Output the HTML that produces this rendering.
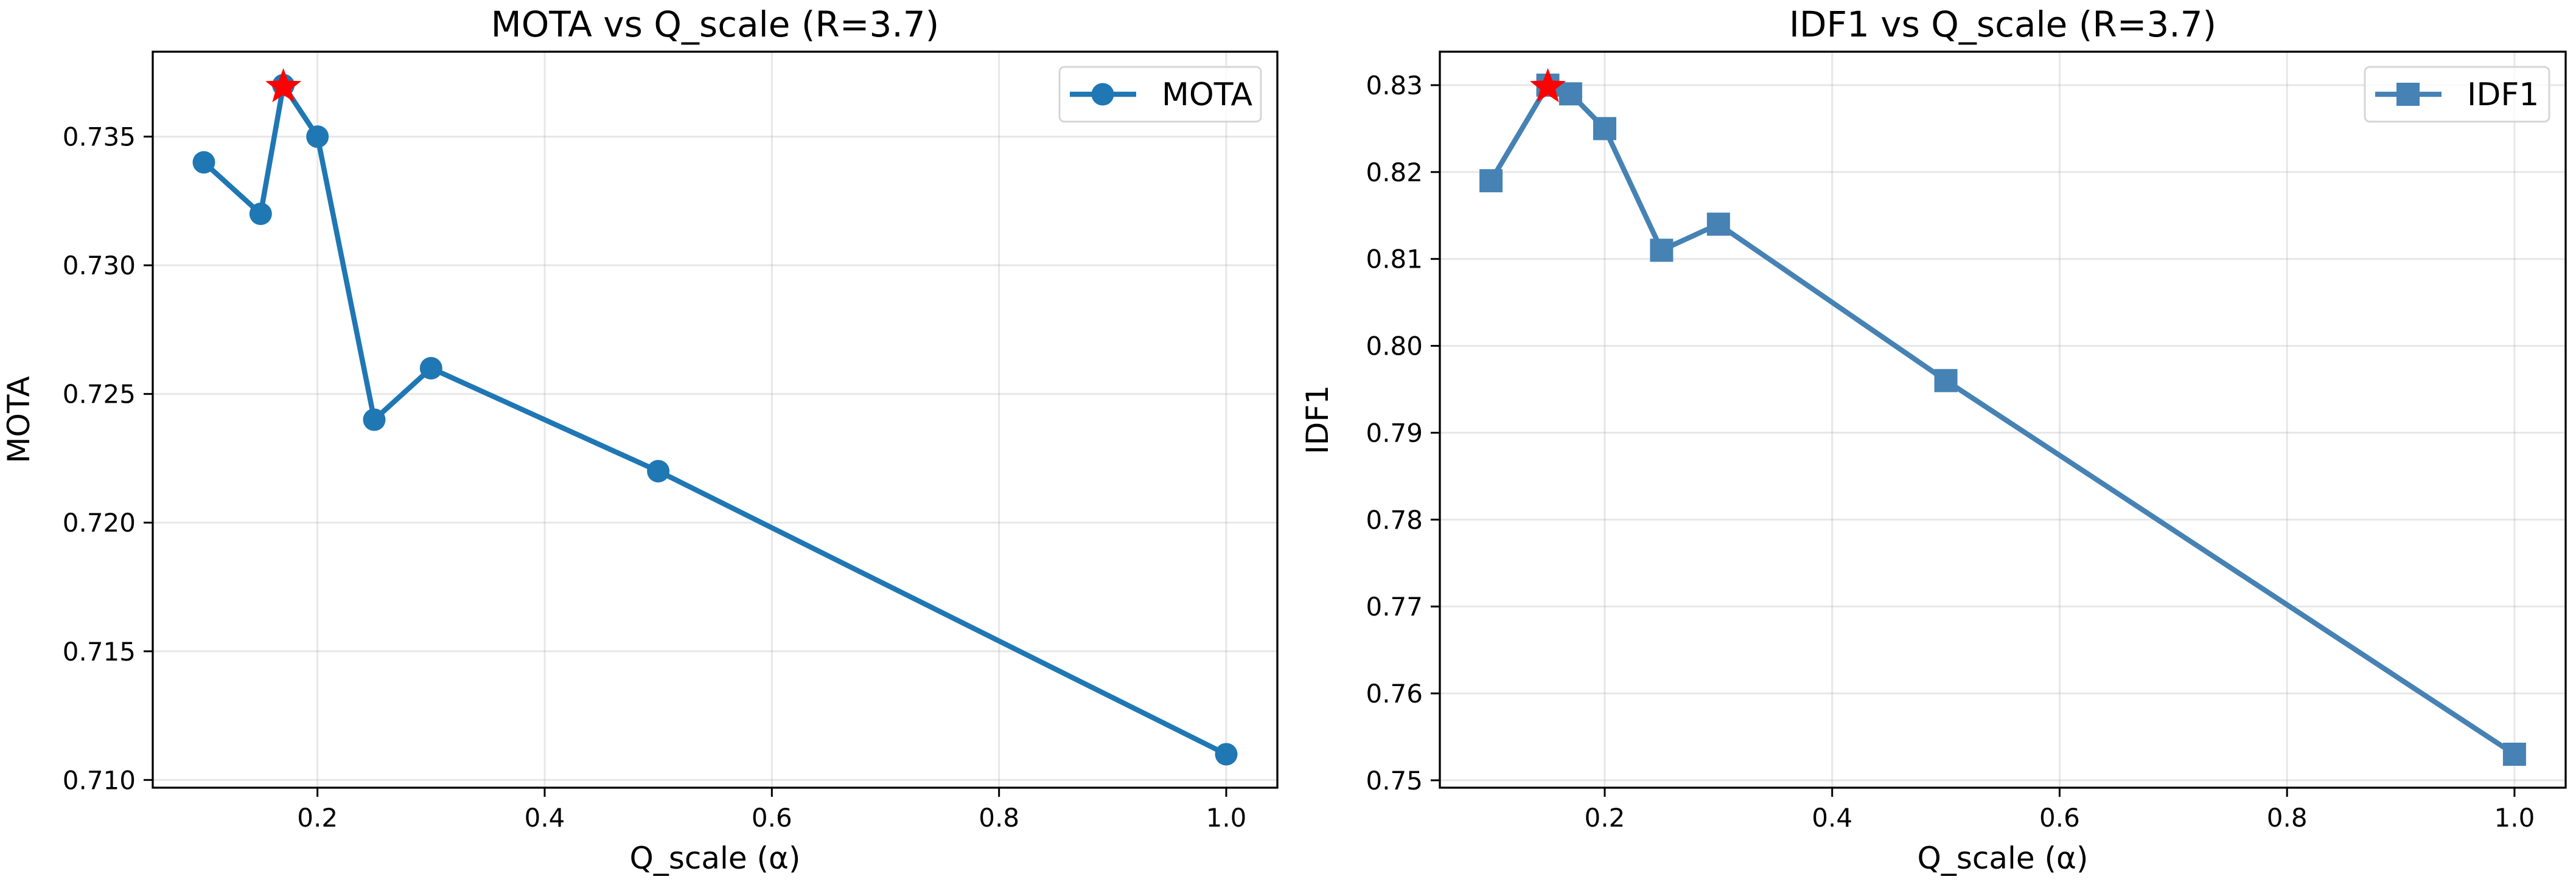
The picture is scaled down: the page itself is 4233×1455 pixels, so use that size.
<!DOCTYPE html>
<html><head><meta charset="utf-8"><style>
html,body{margin:0;padding:0;background:#fff;}
svg{display:block;font-family:"DejaVu Sans","Liberation Sans",sans-serif;}
</style></head><body>
<svg id="fig" width="4233" height="1455" viewBox="0 0 4233 1455" xmlns="http://www.w3.org/2000/svg"></svg>
<script>
const xValues = [0.1, 0.15, 0.17, 0.2, 0.25, 0.3, 0.5, 1.0];
const motaValues = [0.734, 0.732, 0.737, 0.735, 0.724, 0.726, 0.722, 0.711];
const idf1Values = [0.819, 0.830, 0.829, 0.825, 0.811, 0.814, 0.796, 0.753];
const xTicks = [0.2, 0.4, 0.6, 0.8, 1.0];
const xTickLabels = ["0.2", "0.4", "0.6", "0.8", "1.0"];
const motaTicks = [0.710, 0.715, 0.720, 0.725, 0.730, 0.735];
const motaTickLabels = ["0.710", "0.715", "0.720", "0.725", "0.730", "0.735"];
const idf1Ticks = [0.75, 0.76, 0.77, 0.78, 0.79, 0.80, 0.81, 0.82, 0.83];
const idf1TickLabels = ["0.75", "0.76", "0.77", "0.78", "0.79", "0.80", "0.81", "0.82", "0.83"];
const motaBestIndex = 2;
const idf1BestIndex = 1;

const NS = "http://www.w3.org/2000/svg";
const svg = document.getElementById("fig");
function mk(tag, attrs, parent) {
  const e = document.createElementNS(NS, tag);
  for (const k in attrs) e.setAttribute(k, attrs[k]);
  (parent || svg).appendChild(e);
  return e;
}
function starPts(cx, cy, R) {
  const r = R * 0.42; let p = [];
  for (let i = 0; i < 10; i++) {
    const a = -Math.PI / 2 + i * Math.PI / 5;
    const rr = i % 2 ? r : R;
    p.push((cx + rr * Math.cos(a)).toFixed(1) + "," + (cy + rr * Math.sin(a)).toFixed(1));
  }
  return p.join(" ");
}
function domain(vals) {
  const mn = Math.min(...vals), mx = Math.max(...vals), pad = (mx - mn) * 0.05;
  return [mn - pad, mx + pad];
}

function panel(cfg) {
  const g = mk("g", {});
  
  
  const L = cfg.left, R = cfg.right, T = 85, B = 1295;
  const [x0, x1] = domain(xValues);
  const [y0, y1] = domain(cfg.values);
  const sx = v => L + (v - x0) / (x1 - x0) * (R - L);
  const sy = v => B - (v - y0) / (y1 - y0) * (B - T);

  xTicks.forEach((t, i) => {
    const gl = mk("line", {x1: sx(t), x2: sx(t), y1: T, y2: B, stroke: "#b0b0b0", "stroke-opacity": 0.3, "stroke-width": 3}, g);
    
    
    const tk = mk("line", {x1: sx(t), x2: sx(t), y1: B, y2: B + 15, stroke: "#000", "stroke-width": 3}, g);
    
    
    const tl = mk("text", {x: sx(t), y: B + 64, "font-size": 42, "text-anchor": "middle", fill: "#000"}, g);
    tl.textContent = xTickLabels[i];
    
    
  });
  cfg.ticks.forEach((t, i) => {
    const gl = mk("line", {x1: L, x2: R, y1: sy(t), y2: sy(t), stroke: "#b0b0b0", "stroke-opacity": 0.3, "stroke-width": 3}, g);
    
    
    const tk = mk("line", {x1: L - 15, x2: L, y1: sy(t), y2: sy(t), stroke: "#000", "stroke-width": 3}, g);
    
    
    const tl = mk("text", {x: L - 28, y: sy(t) + 15, "font-size": 42, "text-anchor": "end", fill: "#000"}, g);
    tl.textContent = cfg.tickLabels[i];
    
    
  });

  const pts = xValues.map((x, i) => sx(x).toFixed(1) + "," + sy(cfg.values[i]).toFixed(1)).join(" ");
  const pl = mk("polyline", {points: pts, fill: "none", stroke: cfg.color, "stroke-width": 8.5, "stroke-linejoin": "round", "stroke-linecap": "round"}, g);
  
  
  xValues.forEach((x, i) => {
    let m;
    if (cfg.marker === "circle") {
      m = mk("circle", {cx: sx(x), cy: sy(cfg.values[i]), r: 18.5, fill: cfg.color}, g);
    } else {
      m = mk("rect", {x: sx(x) - 19, y: sy(cfg.values[i]) - 19, width: 38, height: 38, fill: cfg.color}, g);
    }
    
    
  });
  const bi = cfg.best;
  const st = mk("polygon", {points: starPts(sx(xValues[bi]), sy(cfg.values[bi]) + 3, 31), fill: "#ff0000"}, g);
  
  

  const fr = mk("rect", {x: L, y: T, width: R - L, height: B - T, fill: "none", stroke: "#000", "stroke-width": 3.3}, g);
  
  

  const ti = mk("text", {x: (L + R) / 2, y: 60, "font-size": 58, "text-anchor": "middle", fill: "#000"}, g);
  ti.textContent = cfg.title;
  
  
  const xl = mk("text", {x: (L + R) / 2, y: 1428, "font-size": 50, "text-anchor": "middle", fill: "#000"}, g);
  xl.textContent = "Q_scale (α)";
  
  
  const yl = mk("text", {x: 0, y: 0, "font-size": 50, "text-anchor": "middle", fill: "#000", transform: `translate(${cfg.ylabelX},${(T + B) / 2}) rotate(-90)`}, g);
  yl.textContent = cfg.name.toUpperCase();
  
  

  const lg = mk("g", {}, g);
  
  
  const bx = mk("rect", {x: cfg.legX, y: 110, width: R - 27 - cfg.legX, height: 90, rx: 8, fill: "#fff", "fill-opacity": 0.8, stroke: "#d6d6d6", "stroke-width": 3}, lg);
  
  
  const hl = mk("line", {x1: cfg.legX + 17, x2: cfg.legX + 126, y1: 155, y2: 155, stroke: cfg.color, "stroke-width": 8.5}, lg);
  
  
  let hm;
  if (cfg.marker === "circle") hm = mk("circle", {cx: cfg.legX + 71, cy: 155, r: 18.5, fill: cfg.color}, lg);
  else hm = mk("rect", {x: cfg.legX + 52, y: 136, width: 38, height: 38, fill: cfg.color}, lg);
  
  
  const lt = mk("text", {x: cfg.legX + 168, y: 173, "font-size": 52, fill: "#000"}, lg);
  lt.textContent = cfg.name.toUpperCase();
  
  
}

panel({name: "mota", title: "MOTA vs Q_scale (R=3.7)", left: 251, right: 2099, values: motaValues,
  ticks: motaTicks, tickLabels: motaTickLabels, color: "#1f77b4", marker: "circle", best: motaBestIndex,
  ylabelX: 48, legX: 1741});
panel({name: "idf1", title: "IDF1 vs Q_scale (R=3.7)", left: 2366, right: 4216, values: idf1Values,
  ticks: idf1Ticks, tickLabels: idf1TickLabels, color: "#4682b4", marker: "square", best: idf1BestIndex,
  ylabelX: 2182, legX: 3886});
</script>
</body></html>
